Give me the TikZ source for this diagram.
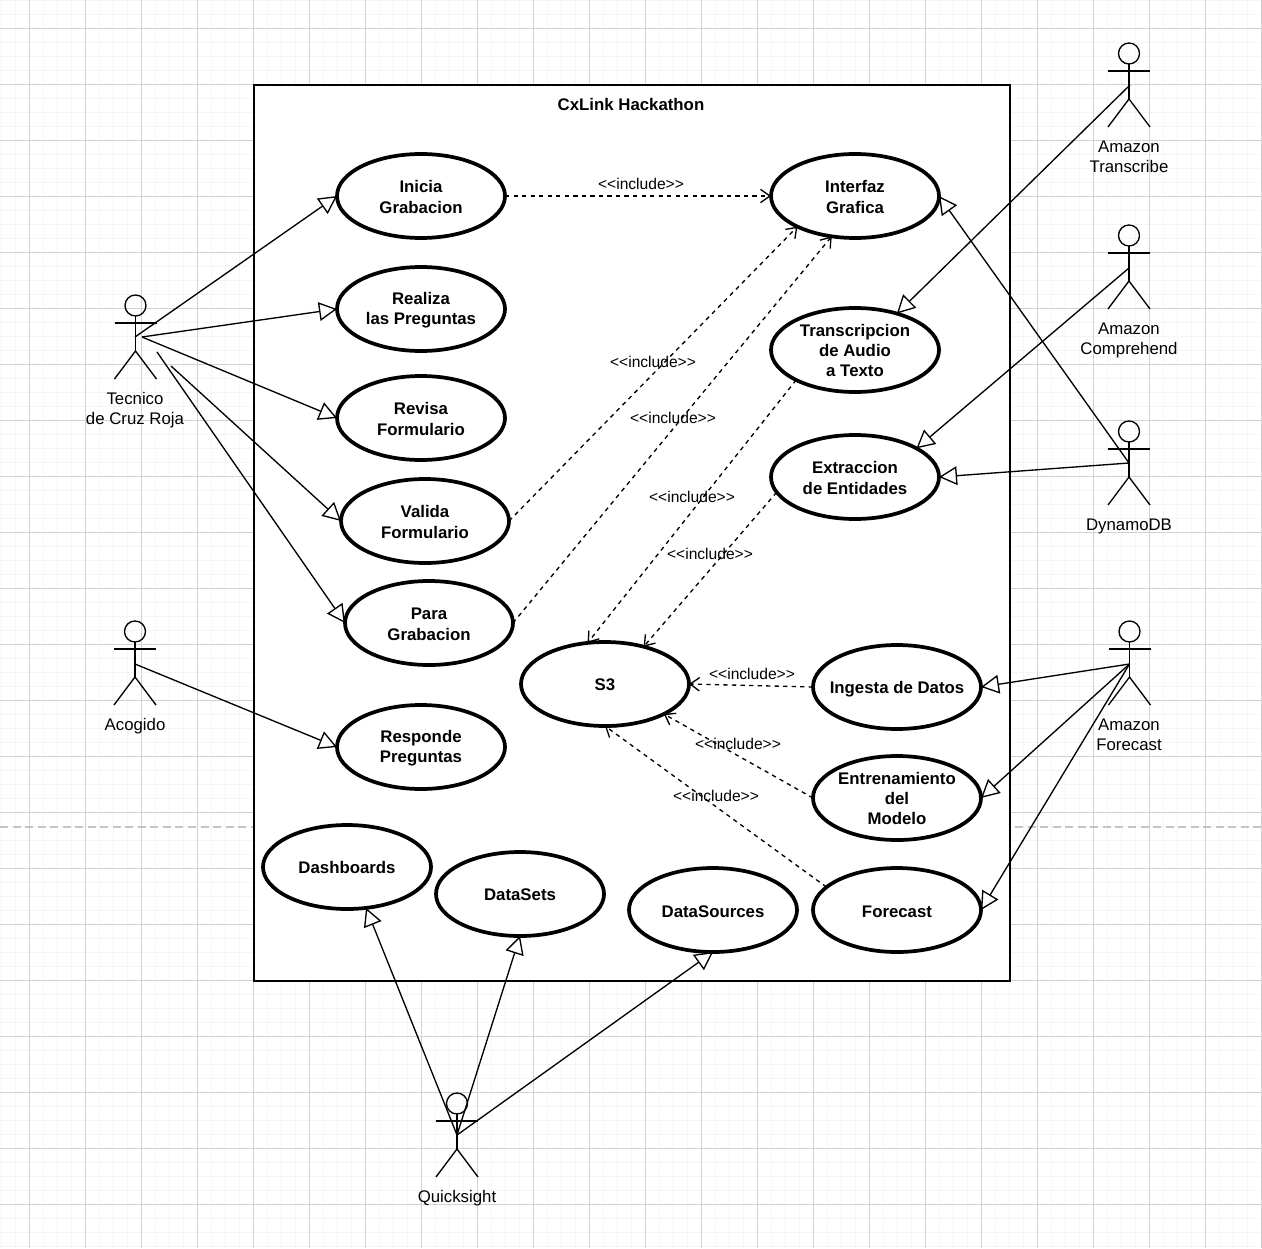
\documentclass[tikz,border=0pt]{standalone}
\usepackage{fontspec}
\setmainfont{Liberation Sans}
\usetikzlibrary{arrows.meta,shapes.geometric}
\definecolor{gridmajor}{HTML}{D2D2D2}
\definecolor{gridminor}{HTML}{F5F5F5}
\definecolor{sepline}{HTML}{C4C4C4}
\tikzset{
  usecase/.style={ellipse,draw=black,fill=white,line width=2.8pt,minimum width=126pt,minimum height=63pt,inner sep=-12pt,outer sep=0pt,align=center,font=\fontsize{12.6}{15.2}\selectfont\bfseries},
  twolines/.style={text height=25.7pt},
  threelines/.style={text height=40.4pt},
  inclbl/.style={font=\fontsize{11.7}{14}\selectfont,inner sep=0pt},
  actorlbl/.style={font=\fontsize{12.6}{15}\selectfont,align=center,inner sep=0pt},
  actorline/.style={line width=1pt,draw=black},
  assoc/.style={line width=1pt,draw=black,-{Triangle[open,fill=white,length=13.5pt,width=14pt,line width=1pt]}},
  incl/.style={line width=1pt,draw=black,dash pattern=on 3.2pt off 3.2pt,-{Straight Barb[length=7pt,width=10pt,line width=1pt]}},
}
\newcommand{\umlactor}[3]{%
  \node[circle,draw=black,line width=1pt,minimum size=15.75pt,inner sep=0pt,outer sep=0pt] (#1head) at (#2,#3+10.5) {};
  \coordinate (#1neck) at (#2,#3+21);
  \coordinate (#1hip) at (#2,#3+56);
  \coordinate (#1armL) at (#2-21,#3+28);
  \coordinate (#1armR) at (#2+21,#3+28);
  \coordinate (#1footL) at (#2-21,#3+84);
  \coordinate (#1footR) at (#2+21,#3+84);
  \draw[actorline] (#1head.south) -- (#1hip);
  \draw[actorline] (#1armL) -- (#1armR);
  \draw[actorline] (#1footL) -- (#1hip) -- (#1footR);
}
\begin{document}
\begin{tikzpicture}[x=0.75pt,y=-0.75pt]
\useasboundingbox (0,0) rectangle (1262,1248);
\fill[white] (0,0) rectangle (1262,1248);
% grid
\foreach \k in {0,...,90} {
  \draw[gridminor,line width=1.1pt] (1.3+14*\k,0) -- (1.3+14*\k,1248);
  \draw[gridminor,line width=1.1pt] (0,0.3+14*\k) -- (1262,0.3+14*\k);
}
\foreach \k in {0,...,22} {
  \draw[gridmajor,line width=0.75pt] (29.3+56*\k,0) -- (29.3+56*\k,1248);
  \draw[gridmajor,line width=0.75pt] (0,28.3+56*\k) -- (1262,28.3+56*\k);
}
\draw[sepline,line width=1.1pt,dash pattern=on 6pt off 3.4pt] (0,827) -- (1262,827);
% system boundary
\node[draw=black,fill=white,line width=1pt,minimum width=567pt,minimum height=672pt,inner sep=0pt,outer sep=0pt] (system) at (632,533) {};
\node[font=\fontsize{12.6}{15}\selectfont\bfseries,inner sep=0pt] (title) at (631,104) {CxLink Hackathon};
% use cases
\node[usecase,twolines] (inicia) at (421,196) {Inicia\\Grabacion};
\node[usecase,twolines] (realiza) at (421,309) {Realiza\\las Preguntas};
\node[usecase,twolines] (revisa) at (421,418) {Revisa\\Formulario};
\node[usecase,twolines] (valida) at (425,521) {Valida\\Formulario};
\node[usecase,twolines] (para) at (429,623) {Para\\Grabacion};
\node[usecase,twolines] (responde) at (421,747) {Responde\\Preguntas};
\node[usecase,twolines] (interfaz) at (855,196) {Interfaz\\Grafica};
\node[usecase,threelines] (transcripcion) at (855,350) {Transcripcion\\de Audio\\a Texto};
\node[usecase,twolines] (extraccion) at (855,477) {Extraccion\\de Entidades};
\node[usecase,text height=10.5pt] (sthree) at (605,684) {S3};
\node[usecase,text height=12pt] (ingesta) at (897,687) {Ingesta de Datos};
\node[usecase,threelines] (entrenamiento) at (897,798) {Entrenamiento\\del\\Modelo};
\node[usecase,text height=11.2pt] (forecast) at (897,910) {Forecast};
\node[usecase,text height=10.5pt] (dashboards) at (347,867) {Dashboards};
\node[usecase,text height=10.5pt] (datasets) at (520,894) {DataSets};
\node[usecase,text height=11.2pt] (datasources) at (713,910) {DataSources};
% actors
\umlactor{tecnico}{135.5}{295}
\umlactor{acogido}{135}{621}
\umlactor{transcribe}{1129}{43}
\umlactor{comprehend}{1129}{225}
\umlactor{dynamo}{1129}{421}
\umlactor{amforecast}{1129.5}{621}
\umlactor{quicksight}{457}{1093}
\node[actorlbl] (tecnicolbl) at (135,410) {Tecnico\\de Cruz Roja};
\node[actorlbl] (acogidolbl) at (135,726) {Acogido};
\node[actorlbl] (transcribelbl) at (1129,157) {Amazon\\Transcribe};
\node[actorlbl] (comprehendlbl) at (1129,340) {Amazon\\Comprehend};
\node[actorlbl] (dynamolbl) at (1129,526) {DynamoDB};
\node[actorlbl] (amforecastlbl) at (1129,735) {Amazon\\Forecast};
\node[actorlbl] (quicksightlbl) at (457,1198) {Quicksight};
% connector free ends
\coordinate (tecA) at (135,337);
\coordinate (tecB) at (142,337);
\coordinate (tecC) at (171,366);
\coordinate (tecD) at (157,352);
\coordinate (acoA) at (135,664);
\coordinate (traA) at (1130,85);
\coordinate (comA) at (1129,268);
\coordinate (dynA) at (1129,463);
\coordinate (forA) at (1129.5,664);
\coordinate (quiA) at (457,1135);
% associations
\draw[assoc] (tecA) -- (inicia.west);
\draw[assoc] (tecB) -- (realiza.west);
\draw[assoc] (tecB) -- (revisa.west);
\draw[assoc] (tecC) -- (valida.west);
\draw[assoc] (tecD) -- (para.west);
\draw[assoc] (acoA) -- (responde.west);
\draw[assoc] (traA) -- (transcripcion.41);
\draw[assoc] (comA) -- (extraccion.25);
\draw[assoc] (dynA) -- (interfaz.east);
\draw[assoc] (dynA) -- (extraccion.east);
\draw[assoc] (forA) -- (ingesta.east);
\draw[assoc] (forA) -- (entrenamiento.east);
\draw[assoc] (forA) -- (forecast.east);
\draw[assoc] (quiA) -- (dashboards.295);
\draw[assoc] (quiA) -- (datasets.south);
\draw[assoc] (quiA) -- (datasources.south);
% includes
\draw[incl] (inicia.east) -- (interfaz.west);
\draw[incl] (valida.east) -- (interfaz.208);
\draw[incl] (para.east) -- (interfaz.240);
\draw[incl] (transcripcion.207) -- (sthree.113);
\draw[incl] (extraccion.191) -- (sthree.44);
\draw[incl] (ingesta.west) -- (sthree.east);
\draw[incl] (entrenamiento.west) -- (sthree.333);
\draw[incl] (forecast.162) -- (sthree.south);
% include labels
\node[inclbl] (lblA) at (641,184) {<{}<include>{}>};
\node[inclbl] (lblB) at (653,362) {<{}<include>{}>};
\node[inclbl] (lblC) at (673,418) {<{}<include>{}>};
\node[inclbl] (lblD) at (692,497) {<{}<include>{}>};
\node[inclbl] (lblE) at (710,554) {<{}<include>{}>};
\node[inclbl] (lblF) at (752,674) {<{}<include>{}>};
\node[inclbl] (lblG) at (738,744) {<{}<include>{}>};
\node[inclbl] (lblH) at (716,796) {<{}<include>{}>};
\end{tikzpicture}
\end{document}
